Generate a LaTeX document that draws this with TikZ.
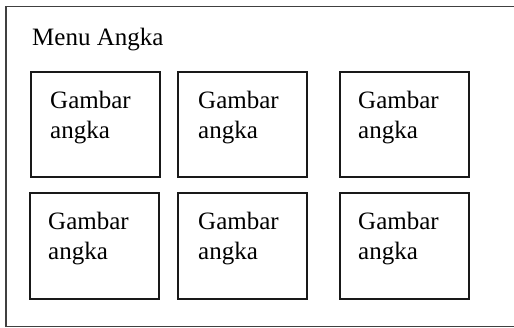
\documentclass[tikz,border=0pt]{standalone}
\usepackage{fontspec}
\setmainfont{Liberation Serif}
\begin{document}
\begin{tikzpicture}[x=1pt,y=-1pt,
  outer/.style={draw=black!75,line width=1.7pt},
  box/.style={draw=black!90,line width=1.7pt,inner sep=0pt,anchor=north west},
  lbl/.style={font=\fontsize{25}{30}\selectfont,align=left,inner sep=0pt,anchor=base west}]
\useasboundingbox (0,0) rectangle (514,327);
\clip (0,0) rectangle (514,327);
\fill[white] (0,0) rectangle (514,327);
\node[outer,inner sep=0pt,anchor=north west,minimum width=530pt,minimum height=320pt] (frame) at (5,5.5) {};
\node[anchor=base west,inner sep=0pt,font=\fontsize{25}{30}\selectfont] (title) at (32,45) {Menu Angka};
% row 1
\node[box,minimum width=129pt,minimum height=105pt] (b1) at (30,71) {};
\node[box,minimum width=129pt,minimum height=105pt] (b2) at (177,71) {};
\node[box,minimum width=129pt,minimum height=105pt] (b3) at (339,71) {};
% row 2
\node[box,minimum width=129pt,minimum height=106pt] (b4) at (29,192) {};
\node[box,minimum width=129pt,minimum height=106pt] (b5) at (177,192) {};
\node[box,minimum width=129pt,minimum height=106pt] (b6) at (339,192) {};
\node[lbl] (t1) at ([shift={(20,67)}]b1.north west) {Gambar\\angka};
\node[lbl] (t2) at ([shift={(21,67)}]b2.north west) {Gambar\\angka};
\node[lbl] (t3) at ([shift={(19,67)}]b3.north west) {Gambar\\angka};
\node[lbl] (t4) at ([shift={(19,67)}]b4.north west) {Gambar\\angka};
\node[lbl] (t5) at ([shift={(21,67)}]b5.north west) {Gambar\\angka};
\node[lbl] (t6) at ([shift={(19,67)}]b6.north west) {Gambar\\angka};
\end{tikzpicture}
\end{document}
